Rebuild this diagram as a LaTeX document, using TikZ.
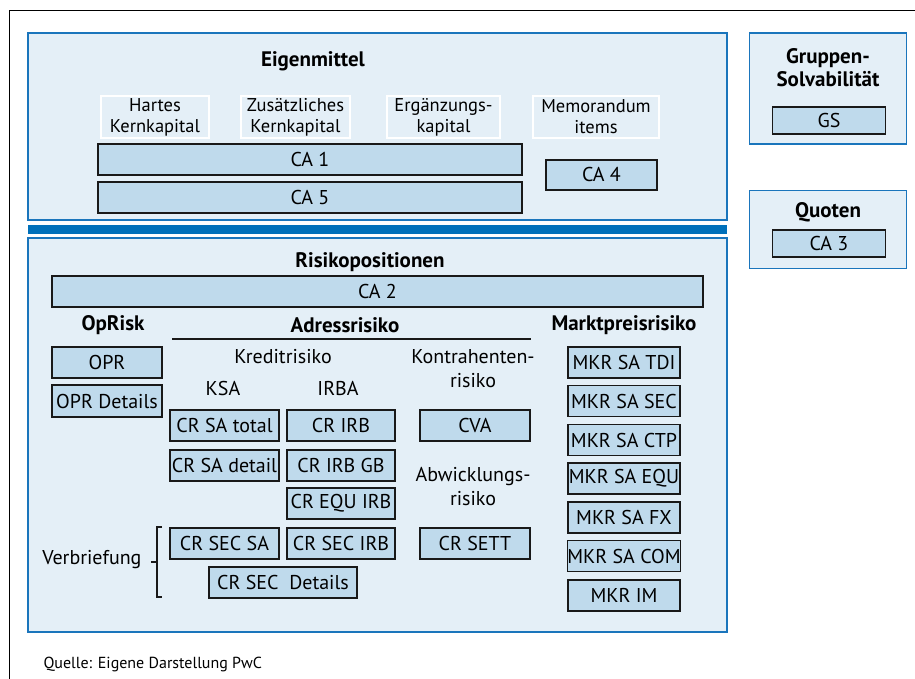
\documentclass[tikz,border=0pt]{standalone}
\usepackage{fontspec}
\setmainfont{PT Sans}
\begin{document}
\begin{tikzpicture}[x=1pt,y=-1pt,
  every node/.style={font=\fontsize{20}{23}\selectfont},
  panel/.style={draw=pblue,fill=plight,line width=1.8pt,inner sep=0pt},
  cbox/.style={draw=black!90,fill=cblue,line width=1.3pt,inner sep=0pt,minimum height=31,align=center},
  wbox/.style={draw=white,line width=2pt,inner sep=0pt,minimum height=42,align=center,font=\fontsize{18.5}{21}\selectfont},
  head/.style={font=\bfseries\fontsize{21}{23}\selectfont,align=center},
  lbl/.style={align=center,font=\fontsize{20}{24}\selectfont}]
\definecolor{pblue}{RGB}{26,117,188}
\definecolor{plight}{RGB}{228,239,247}
\definecolor{cblue}{RGB}{191,218,236}
\definecolor{barblue}{RGB}{0,112,186}
\useasboundingbox (0,0) rectangle (915,679);
\fill[white] (0,0) rectangle (915,679);
% outer frame (cropped)
\draw[line width=1.5pt,black] (9.5,679) -- (9.5,10.5) -- (915,10.5);
% panels
\node[panel,minimum width=699,minimum height=187] (eig) at (377.5,126.5) {};
\fill[barblue] (28,225) rectangle (727,234);
\node[panel,minimum width=699,minimum height=394] (ris) at (377.5,435) {};
\node[panel,minimum width=157,minimum height=111] (gsp) at (828,88.5) {};
\node[panel,minimum width=157,minimum height=78] (quo) at (828,229.5) {};
% Eigenmittel
\node[head] (teig) at (313,61) {Eigenmittel};
\node[wbox,minimum width=108] (hk) at (155,117) {Hartes\\Kernkapital};
\node[wbox,minimum width=109] (zk) at (295.5,117) {Zusätzliches\\Kernkapital};
\node[wbox,minimum width=113] (ek) at (443.5,117) {Ergänzungs-\\kapital};
\node[wbox,minimum width=126] (mi) at (596,117) {Memorandum\\items};
\node[cbox,minimum width=424] (ca1) at (310,159.5) {CA 1};
\node[cbox,minimum width=424] (ca5) at (310,197.5) {CA 5};
\node[cbox,minimum width=111,minimum height=30] (ca4) at (601.5,175) {CA 4};
% Gruppen / Quoten
\node[head] (tgs) at (828,68) {Gruppen-\\Solvabilität};
\node[cbox,minimum width=113,minimum height=27] (gs) at (829,120.5) {GS};
\node[head] (tquo) at (828,212) {Quoten};
\node[cbox,minimum width=113,minimum height=27] (ca3) at (829,243.5) {CA 3};
% Risikopositionen
\node[head] (tris) at (370,262) {Risikopositionen};
\node[cbox,minimum width=651] (ca2) at (377.5,291.5) {CA 2};
\node[head] (top) at (113,325) {OpRisk};
\node[head] (tadr) at (345,325) {Adressrisiko};
\node[head] (tmkt) at (624,325) {Marktpreisrisiko};
\coordinate (la) at (172,339);
\coordinate (lb) at (531,339);
\draw[line width=1.3pt,black!90] (la) -- (lb);
\node[cbox,minimum width=110] (opr) at (107,362.5) {OPR};
\node[cbox,minimum width=110,minimum height=32] (oprd) at (107,401) {OPR Details};
\node[lbl] (kred) at (283,357) {Kreditrisiko};
\node[lbl] (ksa) at (223,388) {KSA};
\node[lbl] (irba) at (338,388) {IRBA};
\node[lbl] (kontr) at (473,369) {Kontrahenten-\\risiko};
\node[cbox,minimum width=109] (crsat) at (224.5,425.5) {CR SA total};
\node[cbox,minimum width=108] (crirb) at (341,425.5) {CR IRB};
\node[cbox,minimum width=109] (crsad) at (224.5,465.5) {CR SA detail};
\node[cbox,minimum width=108] (crirbgb) at (341,465.5) {CR IRB GB};
\node[cbox,minimum width=108] (crequ) at (341,503.5) {CR EQU IRB};
\node[cbox,minimum width=109] (crsecsa) at (224.5,543.5) {CR SEC SA};
\node[cbox,minimum width=108] (crsecirb) at (341,543.5) {CR SEC IRB};
\node[cbox,minimum width=148] (crsecd) at (283,582.5) {CR SEC\ \ Details};
\node[cbox,minimum width=110] (cva) at (475,425.5) {CVA};
\node[lbl] (abw) at (473,487) {Abwicklungs-\\risiko};
\node[cbox,minimum width=110] (crsett) at (475,543.5) {CR SETT};
\node[cbox,minimum width=112] (m1) at (624,362.5) {MKR SA TDI};
\node[cbox,minimum width=112] (m2) at (624,401) {MKR SA SEC};
\node[cbox,minimum width=112] (m3) at (624,440) {MKR SA CTP};
\node[cbox,minimum width=112] (m4) at (624,478.5) {MKR SA EQU};
\node[cbox,minimum width=112] (m5) at (624,517.5) {MKR SA FX};
\node[cbox,minimum width=112] (m6) at (624,556) {MKR SA COM};
\node[cbox,minimum width=112] (m7) at (624,595.5) {MKR IM};
% Verbriefung brace
\node[lbl,anchor=east] (verb) at (145,560) {Verbriefung};
\coordinate (bt) at (162,527);
\coordinate (bb) at (162,597);
\coordinate (bm) at (157,562);
\draw[line width=1.3pt,black!90] (bt) -- (157,527) -- (157,597) -- (bb);
\draw[line width=1.3pt,black!90] (bm) -- (151,562);
% source
\node[anchor=west,font=\fontsize{16}{18}\selectfont] (src) at (40,664) {Quelle: Eigene Darstellung PwC};
\end{tikzpicture}
\end{document}
